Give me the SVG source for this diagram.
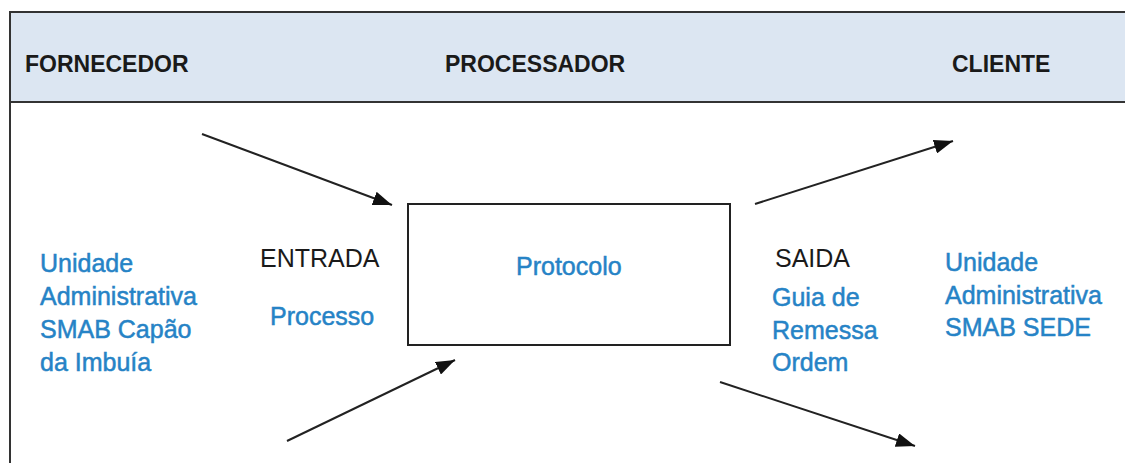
<svg xmlns="http://www.w3.org/2000/svg" width="1125" height="463" viewBox="0 0 1125 463">
  <style>
    .frame { fill: #ffffff; stroke: #333333; stroke-width: 2; }
    .band { fill: #dce6f2; stroke: #333333; stroke-width: 2; }
    .head { font-family: "Liberation Sans", Arial, sans-serif; font-size: 23px; font-weight: bold; fill: #1a1a1a; }
    .lbl { font-family: "Liberation Sans", Arial, sans-serif; font-size: 25px; fill: #1a1a1a; }
    .blue { font-family: "Liberation Sans", Arial, sans-serif; font-size: 25px; fill: #2683c6; stroke: #2683c6; stroke-width: 0.5; }
    .box { fill: #ffffff; stroke: #222222; stroke-width: 2; }
    .flow { stroke: #222222; stroke-width: 2; fill: none; marker-end: url(#tip); }
  </style>
  <defs>
    <marker id="tip" markerUnits="userSpaceOnUse" markerWidth="19" markerHeight="14" refX="19" refY="7" orient="auto">
      <path d="M0,0 L19,7 L0,14 z" fill="#111111"/>
    </marker>
  </defs>

  <rect width="1125" height="463" fill="#ffffff"/>

  <!-- outer frame and header band -->
  <rect class="frame" x="10" y="12" width="1130" height="470"/>
  <rect class="band" x="10" y="12" width="1130" height="90"/>

  <g id="header-fornecedor"><text class="head" x="25" y="72">FORNECEDOR</text></g>
  <g id="header-processador"><text class="head" x="445" y="72">PROCESSADOR</text></g>
  <g id="header-cliente"><text class="head" x="952" y="72">CLIENTE</text></g>

  <!-- supplier -->
  <g id="fornecedor">
    <text class="blue" x="40" y="272">Unidade</text>
    <text class="blue" x="40" y="305">Administrativa</text>
    <text class="blue" x="40" y="338">SMAB Capão</text>
    <text class="blue" x="40" y="371">da Imbuía</text>
  </g>

  <!-- input -->
  <g id="entrada">
    <text class="lbl" x="260" y="267">ENTRADA</text>
    <text class="blue" x="270" y="325">Processo</text>
  </g>

  <!-- process box -->
  <g id="protocolo">
    <rect class="box" x="408" y="204" width="322" height="141"/>
    <text class="blue" x="516" y="275">Protocolo</text>
  </g>

  <!-- output -->
  <g id="saida">
    <text class="lbl" x="775" y="267">SAIDA</text>
    <text class="blue" x="772" y="306">Guia de</text>
    <text class="blue" x="772" y="339">Remessa</text>
    <text class="blue" x="772" y="371">Ordem</text>
  </g>

  <!-- customer -->
  <g id="cliente">
    <text class="blue" x="945" y="271">Unidade</text>
    <text class="blue" x="945" y="304">Administrativa</text>
    <text class="blue" x="945" y="336">SMAB SEDE</text>
  </g>

  <!-- connectors -->
  <g id="connectors">
    <line class="flow" x1="202" y1="134" x2="392" y2="205"/>
    <line class="flow" x1="287" y1="441" x2="455" y2="360"/>
    <line class="flow" x1="755" y1="204" x2="953" y2="141"/>
    <line class="flow" x1="720" y1="382" x2="915" y2="446"/>
  </g>
</svg>
